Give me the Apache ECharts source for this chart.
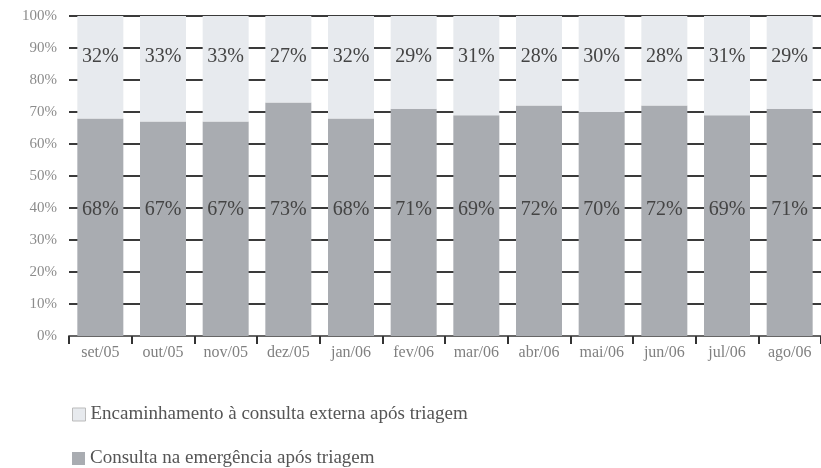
<!DOCTYPE html>
<html>
<head>
<meta charset="utf-8">
<script src="https://cdn.jsdelivr.net/npm/echarts@6/dist/echarts.min.js"></script>
<style>html,body{margin:0;padding:0;background:#fff}#c{width:821px;height:468px}</style>
</head>
<body>
<div id="c"></div>
<script>
const categories = ['set/05','out/05','nov/05','dez/05','jan/06','fev/06','mar/06','abr/06','mai/06','jun/06','jul/06','ago/06'];
const emergencia = [68,67,67,73,68,71,69,72,70,72,69,71];
const externa = [32,33,33,27,32,29,31,28,30,28,31,29];
const yTicks = [0,10,20,30,40,50,60,70,80,90,100];
const nameExterna = 'Encaminhamento à consulta externa após triagem';
const nameEmerg = 'Consulta na emergência após triagem';
const FONT = 'Liberation Serif';

const legendBase = {
  orient: 'vertical', left: 67,
  itemWidth: 13, itemHeight: 13, icon: 'rect', itemGap: 10,
  textStyle: { fontFamily: FONT, fontSize: 19, color: '#555' }
};

const chart = echarts.init(document.getElementById('c'));
chart.setOption({
  animation: false,
  textStyle: { fontFamily: FONT },
  grid: { left: 69, right: -7, top: 16, bottom: 132 },
  legend: [
    Object.assign({}, legendBase, { top: 400, data: [nameExterna],
      itemStyle: { borderColor: '#bbb', borderWidth: 1 } }),
    Object.assign({}, legendBase, { top: 444, data: [nameEmerg] })
  ],
  xAxis: {
    type: 'category', data: categories,
    axisLine: { lineStyle: { color: '#666', width: 2 } },
    axisTick: { show: true, length: 8, lineStyle: { color: '#333', width: 2 } },
    axisLabel: { fontFamily: FONT, fontSize: 16, color: '#808080', margin: 9 }
  },
  yAxis: {
    type: 'value', min: yTicks[0], max: yTicks[yTicks.length-1], interval: 10,
    axisLine: { show: false }, axisTick: { show: false },
    axisLabel: { formatter: '{value}%', fontFamily: FONT, fontSize: 15, color: '#8c8c8c', margin: 12 },
    splitLine: { lineStyle: { color: '#3a3a3a', width: 2 } }
  },
  series: [
    {
      name: nameEmerg, type: 'bar', stack: 's', data: emergencia, barWidth: 46,
      itemStyle: { color: '#a9acb1' },
      label: { show: true, position: 'insideBottom', distance: 116, formatter: '{c}%',
        fontFamily: FONT, fontSize: 20, color: '#444' }
    },
    {
      name: nameExterna, type: 'bar', stack: 's', data: externa, barWidth: 46,
      itemStyle: { color: '#e7eaee' },
      label: { show: true, position: 'insideTop', distance: 31, formatter: '{c}%',
        fontFamily: FONT, fontSize: 20, color: '#444' }
    }
  ]
});
</script>
</body>
</html>
